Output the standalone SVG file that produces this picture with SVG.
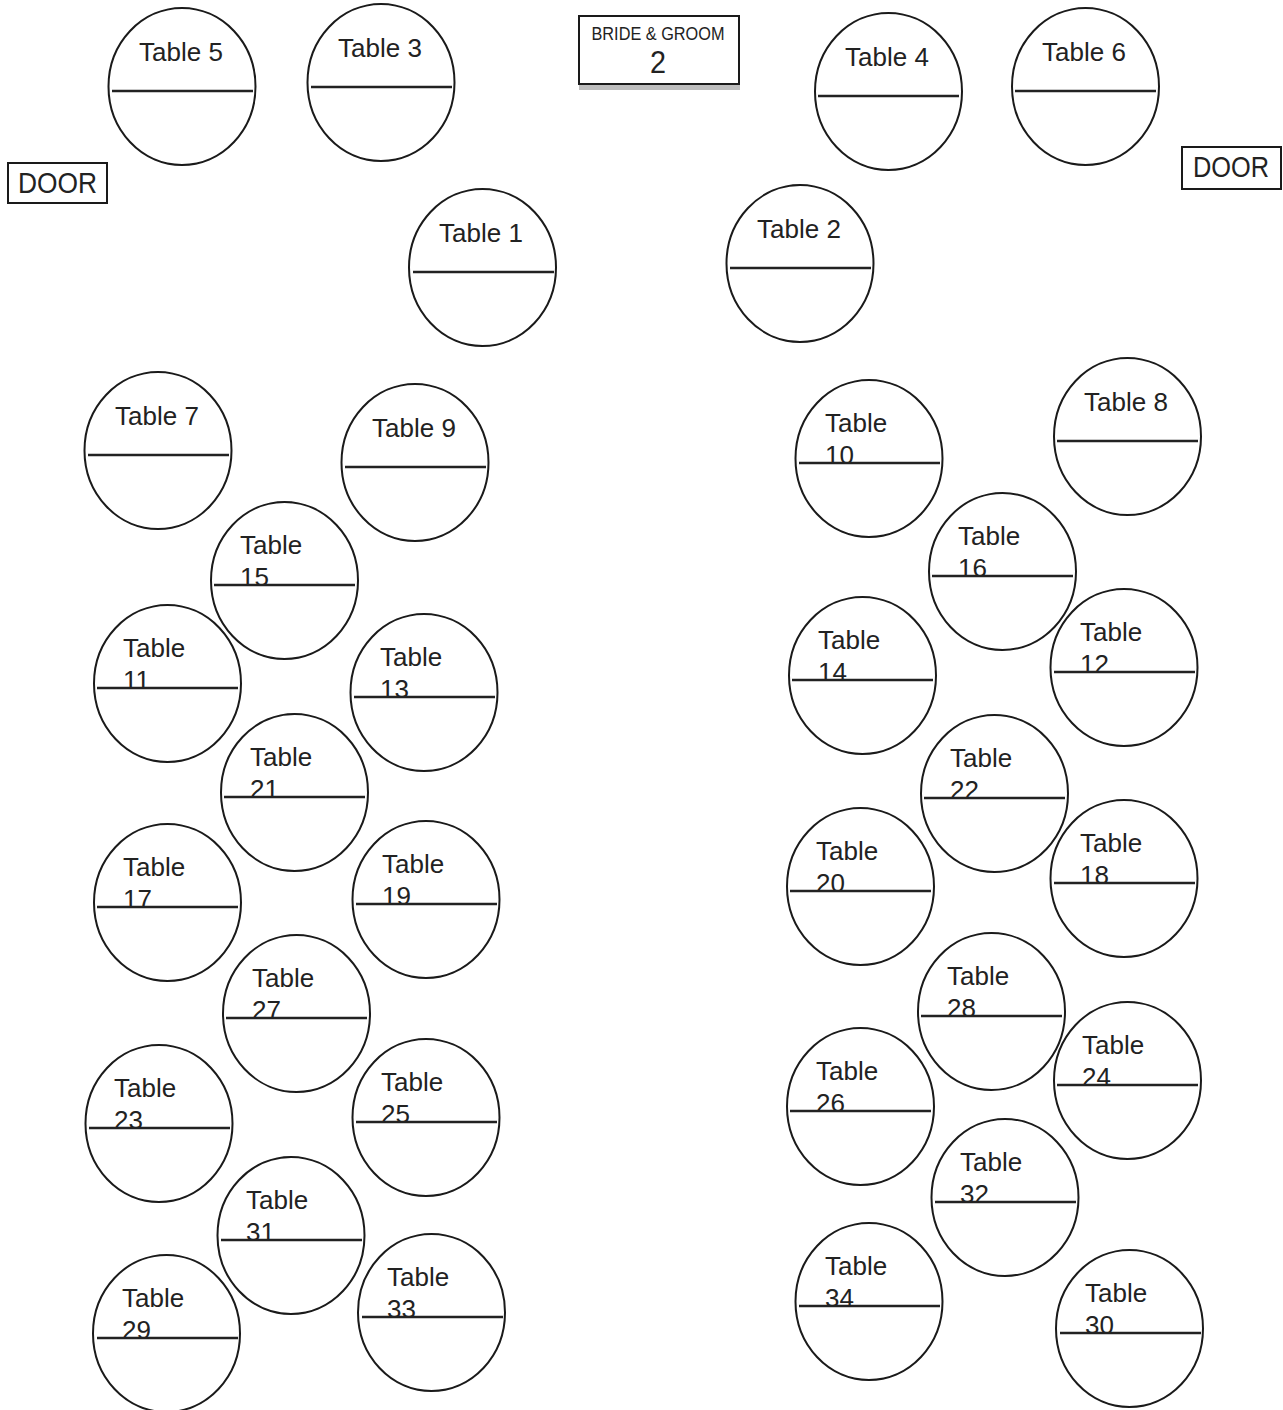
<svg xmlns="http://www.w3.org/2000/svg" width="1283" height="1410" viewBox="0 0 1283 1410">
<style>
.t{fill:none;stroke:#1a1a1a;stroke-width:2}
.l{stroke:#222;stroke-width:2.5}
.x{font-family:"Liberation Sans",Arial,sans-serif;font-size:26px;fill:#222}
.c{text-anchor:middle}
.b{fill:#fff;stroke:#1a1a1a;stroke-width:2}
</style>
<defs>
<ellipse id="e" cx="0" cy="0" rx="73.5" ry="78.5"/>
</defs>
<rect width="1283" height="1410" fill="#fff"/>
<g id="connectors"></g>

<g id="bride-groom">
<rect x="579" y="84" width="161" height="6" fill="#bdbdbd"/>
<rect class="b" x="579" y="16" width="160" height="68"/>
<text class="x c" x="658" y="40" style="font-size:18px" textLength="133" lengthAdjust="spacingAndGlyphs">BRIDE &amp; GROOM</text>
<text class="x c" x="658" y="73" style="font-size:31px" textLength="16" lengthAdjust="spacingAndGlyphs">2</text>
</g>
<g id="door-left">
<rect class="b" x="8" y="163" width="99" height="40"/>
<text class="x" x="18" y="193" style="font-size:29px" textLength="79" lengthAdjust="spacingAndGlyphs">DOOR</text>
</g>
<g id="door-right">
<rect class="b" x="1182" y="147" width="99" height="42"/>
<text class="x" x="1193" y="177" style="font-size:29px" textLength="76" lengthAdjust="spacingAndGlyphs">DOOR</text>
</g>

<g id="table-5"><use href="#e" class="t" x="182" y="86.5"/><line class="l" x1="112" y1="91" x2="253" y2="91"/><text class="x c" x="181" y="60.5">Table 5</text></g>
<g id="table-3"><use href="#e" class="t" x="381" y="82.5"/><line class="l" x1="311" y1="87" x2="452" y2="87"/><text class="x c" x="380" y="56.5">Table 3</text></g>
<g id="table-4"><use href="#e" class="t" x="888.5" y="91.5"/><line class="l" x1="818" y1="96" x2="959" y2="96"/><text class="x c" x="887" y="65.5">Table 4</text></g>
<g id="table-6"><use href="#e" class="t" x="1085.5" y="86.5"/><line class="l" x1="1015" y1="91" x2="1156" y2="91"/><text class="x c" x="1084" y="60.5">Table 6</text></g>
<g id="table-1"><use href="#e" class="t" x="482.5" y="267.5"/><line class="l" x1="413" y1="272" x2="554" y2="272"/><text class="x c" x="481" y="241.5">Table 1</text></g>
<g id="table-2"><use href="#e" class="t" x="800" y="263.5"/><line class="l" x1="730" y1="268" x2="871" y2="268"/><text class="x c" x="799" y="237.5">Table 2</text></g>
<g id="table-7"><use href="#e" class="t" x="158" y="450.5"/><line class="l" x1="88" y1="455" x2="229" y2="455"/><text class="x c" x="157" y="424.5">Table 7</text></g>
<g id="table-9"><use href="#e" class="t" x="415" y="462.5"/><line class="l" x1="345" y1="467" x2="486" y2="467"/><text class="x c" x="414" y="436.5">Table 9</text></g>
<g id="table-8"><use href="#e" class="t" x="1127.5" y="436.5"/><line class="l" x1="1057" y1="441" x2="1198" y2="441"/><text class="x c" x="1126" y="410.5">Table 8</text></g>

<g id="table-10"><use href="#e" class="t" x="869" y="458.5"/><line class="l" x1="799" y1="463" x2="940" y2="463"/><text class="x" x="825" y="432">Table</text><text class="x" x="825" y="464">10</text></g>
<g id="table-15"><use href="#e" class="t" x="284.5" y="580.5"/><line class="l" x1="214" y1="585" x2="355" y2="585"/><text class="x" x="240" y="554">Table</text><text class="x" x="240" y="586">15</text></g>
<g id="table-16"><use href="#e" class="t" x="1002.5" y="571.5"/><line class="l" x1="932" y1="576" x2="1073" y2="576"/><text class="x" x="958" y="545">Table</text><text class="x" x="958" y="577">16</text></g>
<g id="table-11"><use href="#e" class="t" x="167.5" y="683.5"/><line class="l" x1="97" y1="688" x2="238" y2="688"/><text class="x" x="123" y="657">Table</text><text class="x" x="123" y="689">11</text></g>
<g id="table-13"><use href="#e" class="t" x="424" y="692.5"/><line class="l" x1="354" y1="697" x2="495" y2="697"/><text class="x" x="380" y="666">Table</text><text class="x" x="380" y="698">13</text></g>
<g id="table-14"><use href="#e" class="t" x="862.5" y="675.5"/><line class="l" x1="792" y1="680" x2="933" y2="680"/><text class="x" x="818" y="649">Table</text><text class="x" x="818" y="681">14</text></g>
<g id="table-12"><use href="#e" class="t" x="1124" y="667.5"/><line class="l" x1="1054" y1="672" x2="1195" y2="672"/><text class="x" x="1080" y="641">Table</text><text class="x" x="1080" y="673">12</text></g>
<g id="table-21"><use href="#e" class="t" x="294.5" y="792.5"/><line class="l" x1="224" y1="797" x2="365" y2="797"/><text class="x" x="250" y="766">Table</text><text class="x" x="250" y="798">21</text></g>
<g id="table-22"><use href="#e" class="t" x="994.5" y="793.5"/><line class="l" x1="924" y1="798" x2="1065" y2="798"/><text class="x" x="950" y="767">Table</text><text class="x" x="950" y="799">22</text></g>
<g id="table-17"><use href="#e" class="t" x="167.5" y="902.5"/><line class="l" x1="97" y1="907" x2="238" y2="907"/><text class="x" x="123" y="876">Table</text><text class="x" x="123" y="908">17</text></g>
<g id="table-19"><use href="#e" class="t" x="426" y="899.5"/><line class="l" x1="356" y1="904" x2="497" y2="904"/><text class="x" x="382" y="873">Table</text><text class="x" x="382" y="905">19</text></g>
<g id="table-20"><use href="#e" class="t" x="860.5" y="886.5"/><line class="l" x1="790" y1="891" x2="931" y2="891"/><text class="x" x="816" y="860">Table</text><text class="x" x="816" y="892">20</text></g>
<g id="table-18"><use href="#e" class="t" x="1124" y="878.5"/><line class="l" x1="1054" y1="883" x2="1195" y2="883"/><text class="x" x="1080" y="852">Table</text><text class="x" x="1080" y="884">18</text></g>
<g id="table-27"><use href="#e" class="t" x="296.5" y="1013.5"/><line class="l" x1="226" y1="1018" x2="367" y2="1018"/><text class="x" x="252" y="987">Table</text><text class="x" x="252" y="1019">27</text></g>
<g id="table-28"><use href="#e" class="t" x="991.5" y="1011.5"/><line class="l" x1="921" y1="1016" x2="1062" y2="1016"/><text class="x" x="947" y="985">Table</text><text class="x" x="947" y="1017">28</text></g>
<g id="table-23"><use href="#e" class="t" x="159" y="1123.5"/><line class="l" x1="89" y1="1128" x2="230" y2="1128"/><text class="x" x="114" y="1097">Table</text><text class="x" x="114" y="1129">23</text></g>
<g id="table-25"><use href="#e" class="t" x="426" y="1117.5"/><line class="l" x1="356" y1="1122" x2="497" y2="1122"/><text class="x" x="381" y="1091">Table</text><text class="x" x="381" y="1123">25</text></g>
<g id="table-26"><use href="#e" class="t" x="860.5" y="1106.5"/><line class="l" x1="790" y1="1111" x2="931" y2="1111"/><text class="x" x="816" y="1080">Table</text><text class="x" x="816" y="1112">26</text></g>
<g id="table-24"><use href="#e" class="t" x="1127.5" y="1080.5"/><line class="l" x1="1057" y1="1085" x2="1198" y2="1085"/><text class="x" x="1082" y="1054">Table</text><text class="x" x="1082" y="1086">24</text></g>
<g id="table-32"><use href="#e" class="t" x="1005" y="1197.5"/><line class="l" x1="935" y1="1202" x2="1076" y2="1202"/><text class="x" x="960" y="1171">Table</text><text class="x" x="960" y="1203">32</text></g>
<g id="table-31"><use href="#e" class="t" x="291" y="1235.5"/><line class="l" x1="221" y1="1240" x2="362" y2="1240"/><text class="x" x="246" y="1209">Table</text><text class="x" x="246" y="1241">31</text></g>
<g id="table-33"><use href="#e" class="t" x="431.5" y="1312.5"/><line class="l" x1="362" y1="1317" x2="503" y2="1317"/><text class="x" x="387" y="1286">Table</text><text class="x" x="387" y="1318">33</text></g>
<g id="table-29"><use href="#e" class="t" x="166.5" y="1333.5"/><line class="l" x1="97" y1="1338" x2="238" y2="1338"/><text class="x" x="122" y="1307">Table</text><text class="x" x="122" y="1339">29</text></g>
<g id="table-34"><use href="#e" class="t" x="869" y="1301.5"/><line class="l" x1="799" y1="1306" x2="940" y2="1306"/><text class="x" x="825" y="1275">Table</text><text class="x" x="825" y="1307">34</text></g>
<g id="table-30"><use href="#e" class="t" x="1129.5" y="1328.5"/><line class="l" x1="1060" y1="1333" x2="1201" y2="1333"/><text class="x" x="1085" y="1302">Table</text><text class="x" x="1085" y="1334">30</text></g>
</svg>
